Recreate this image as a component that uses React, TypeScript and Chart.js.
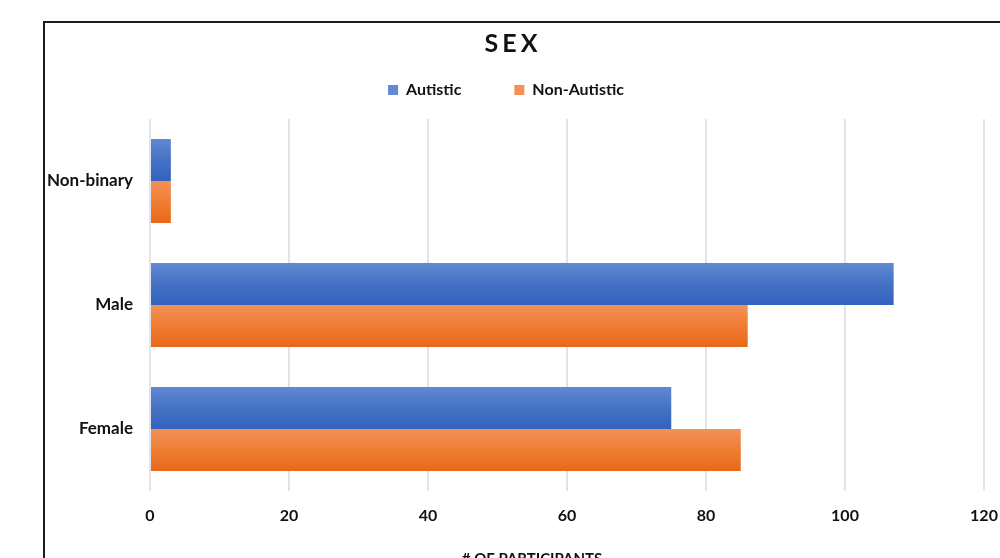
import React, { useEffect, useRef } from 'react';
import { Chart, registerables } from 'chart.js';

Chart.register(...registerables);

const categories = ['Non-binary', 'Male', 'Female'];
const seriesNames = ['Autistic', 'Non-Autistic'];
const autistic = [3, 107, 75];
const nonAutistic = [3, 86, 85];
const xMin = 0;
const xMax = 120;
const xStep = 20;
const titleText = 'SEX';
const xAxisTitle = '# OF PARTICIPANTS';

const FONT = 'Lato, "Open Sans", sans-serif';
const CAT_PCT = 84 / 124;
const BLUE = ['#6189d3', '#4472c4', '#3262bf'];
const ORANGE = ['#f39158', '#ef7d33', '#e8681a'];

function barFill(palette: string[]) {
  return (c: any) => {
    const chart = c.chart;
    const y = chart.scales && chart.scales.y;
    if (!chart.chartArea || !y || c.type !== 'data') return palette[1];
    const center = y.getPixelForValue(c.dataIndex);
    const band = y.height / categories.length;
    const th = (band * CAT_PCT) / 2;
    const top = c.datasetIndex === 0 ? center - th : center;
    const g = chart.ctx.createLinearGradient(0, top, 0, top + th);
    g.addColorStop(0, palette[0]);
    g.addColorStop(0.5, palette[1]);
    g.addColorStop(1, palette[2]);
    return g;
  };
}

const textPlugin = {
  id: 'extraTexts',
  afterDraw(chart: any) {
    const ctx = chart.ctx;
    ctx.save();
    ctx.fillStyle = '#111';
    ctx.textAlign = 'center';
    ctx.textBaseline = 'alphabetic';
    ctx.font = `bold 25px ${FONT}`;
    (ctx as any).letterSpacing = '4px';
    ctx.fillText(titleText, 513, 52);
    (ctx as any).letterSpacing = '0px';
    ctx.font = `bold 15px ${FONT}`;
    ctx.fillText(xAxisTitle, 532, 564);
    ctx.restore();
  },
};

export default function App() {
  const ref = useRef<HTMLCanvasElement | null>(null);

  useEffect(() => {
    if (!ref.current) return;
    const chart = new Chart(ref.current, {
      type: 'bar',
      data: {
        labels: categories,
        datasets: [
          {
            label: seriesNames[0],
            data: autistic,
            backgroundColor: barFill(BLUE),
            borderWidth: 0,
            categoryPercentage: CAT_PCT,
            barPercentage: 1,
          },
          {
            label: seriesNames[1],
            data: nonAutistic,
            backgroundColor: barFill(ORANGE),
            borderWidth: 0,
            categoryPercentage: CAT_PCT,
            barPercentage: 1,
          },
        ],
      },
      options: {
        indexAxis: 'y',
        responsive: false,
        animation: false,
        layout: { padding: { top: 61, left: 12, right: 0, bottom: 0 } },
        plugins: {
          title: { display: false },
          tooltip: { enabled: false },
          legend: {
            display: true,
            position: 'top',
            labels: {
              boxWidth: 10,
              boxHeight: 10,
              padding: 21,
              color: '#111',
              font: { family: FONT, size: 16, weight: 'bold' },
              generateLabels: (ch: any) => {
                const items = (Chart as any).defaults.plugins.legend.labels.generateLabels(ch);
                if (items[0]) items[0].text = items[0].text + '\u2003\u2003\u2002';
                return items;
              },
            },
          },
        },
        scales: {
          x: {
            type: 'linear',
            min: xMin,
            max: xMax,
            ticks: {
              stepSize: xStep,
              padding: 15,
              color: '#111',
              font: { family: FONT, size: 16, weight: 'bold' },
            },
            grid: { color: '#e1e4ec', lineWidth: 2, drawTicks: false },
            border: { display: false },
            afterFit: (s: any) => {
              s.height = 67;
              s.paddingRight = 16;
            },
          },
          spacer: {
            type: 'linear',
            position: 'top',
            display: true,
            ticks: { display: false },
            grid: { display: false, drawTicks: false },
            border: { display: false },
            afterFit: (s: any) => {
              s.height = 11;
              s.paddingRight = 16;
            },
          },
          y: {
            type: 'category',
            ticks: {
              padding: 17,
              color: '#111',
              font: { family: FONT, size: 17, weight: 'bold' },
            },
            grid: { display: false, drawTicks: false },
            border: { display: false },
            afterFit: (s: any) => {
              s.width = 138;
            },
          },
        },
      },
      plugins: [textPlugin],
    } as any);
    return () => chart.destroy();
  }, []);

  return (
    <div style={{ position: 'fixed', left: 0, top: 0, width: 1000, height: 558, overflow: 'hidden', background: '#fff' }}>
      <canvas ref={ref} width={1000} height={558} style={{ display: 'block', width: 1000, height: 558 }} />
      <div
        style={{
          position: 'absolute',
          left: 43,
          top: 21,
          width: 1000,
          height: 600,
          border: '2px solid #1c1c1c',
          pointerEvents: 'none',
        }}
      />
    </div>
  );
}
